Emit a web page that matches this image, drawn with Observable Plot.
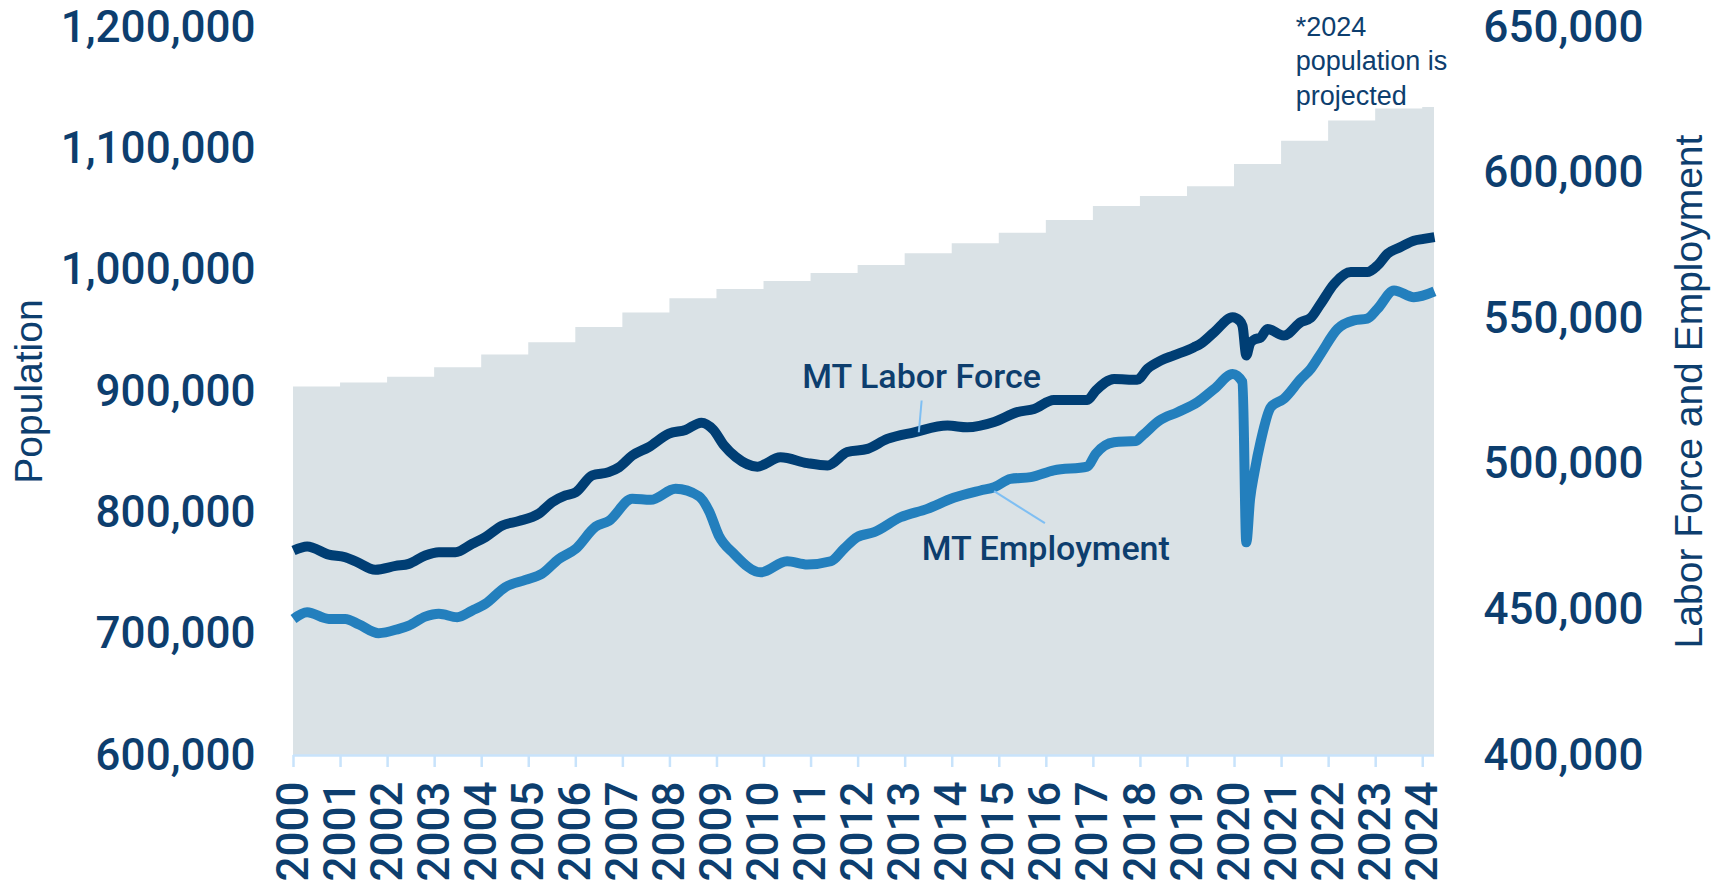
<!DOCTYPE html>
<html><head><meta charset="utf-8">
<script src="https://cdn.jsdelivr.net/npm/d3@7"></script>
<script src="https://cdn.jsdelivr.net/npm/@observablehq/plot@0.6"></script>
<style>body{margin:0;background:#fff} svg{display:block}</style>
</head><body><div id="chart"></div>
<script>
// ---- data ----
const years = d3.range(2000, 2025);
const population = [903773, 906961, 911667, 919630, 930009, 940102, 952692, 964706, 976415, 983982,
  990697, 997316, 1003783, 1013569, 1021869, 1030475, 1040859, 1052482, 1060665, 1068778,
  1087075, 1106227, 1122878, 1132812, 1134000];

// [decimal year, value]
const laborForce = [
  [2000.00,470400],[2000.29,471800],[2000.75,469000],[2001.10,468100],[2001.32,466700],[2001.74,463800],
  [2002.17,465100],[2002.45,465800],[2002.80,468700],[2003.09,469800],[2003.44,469800],[2003.80,472700],
  [2004.08,475000],[2004.44,479000],[2004.79,480500],[2005.21,483000],[2005.50,487000],[2005.78,489300],
  [2006.00,490400],[2006.35,496200],[2006.70,497300],[2006.92,499000],[2007.20,503000],[2007.55,505900],
  [2007.98,510500],[2008.33,511800],[2008.67,514300],[2008.92,511900],[2009.15,506500],[2009.40,502500],
  [2009.86,499200],[2010.35,502400],[2010.92,500400],[2011.35,499600],[2011.77,504200],[2012.20,505300],
  [2012.62,508700],[2013.19,511000],[2013.90,513300],[2014.32,512700],[2014.89,514500],[2015.38,517900],
  [2015.74,519000],[2016.16,522100],[2016.87,522100],[2017.05,525300],[2017.44,529300],[2017.93,529000],
  [2018.15,532800],[2018.43,535600],[2018.71,537400],[2019.14,540200],[2019.28,541400],[2019.57,545400],
  [2019.96,550500],[2020.10,549400],[2020.17,547500],[2020.25,537400],[2020.33,541500],[2020.42,542800],
  [2020.56,543600],[2020.70,546500],[2021.05,544200],[2021.41,548800],[2021.62,550300],[2021.83,555100],
  [2022.12,562000],[2022.47,566000],[2022.82,566000],[2023.04,568300],[2023.25,572300],[2023.53,574600],
  [2023.81,576800],[2024.02,577400],[2024.25,578000]
];
const employment = [
  [2000.00,446900],[2000.29,449200],[2000.75,446900],[2001.10,446900],[2001.39,445000],[2001.81,442000],
  [2002.24,443500],[2002.45,444600],[2002.80,447700],[2003.09,448700],[2003.48,447500],[2003.80,449800],
  [2004.08,452100],[2004.50,457800],[2004.93,460300],[2005.28,462400],[2005.64,467500],[2006.00,471000],
  [2006.42,478600],[2006.70,480500],[2007.20,488200],[2007.59,487800],[2008.12,491600],[2008.62,489000],
  [2008.83,484000],[2009.04,475500],[2009.36,469300],[2009.93,462900],[2010.49,466700],[2010.92,465600],
  [2011.42,466700],[2011.70,471000],[2011.98,475000],[2012.34,476700],[2012.90,481800],[2013.47,484700],
  [2014.03,488500],[2014.60,491000],[2014.89,492100],[2015.24,495000],[2015.67,495600],[2016.16,497900],
  [2016.87,499200],[2017.05,503600],[2017.44,507600],[2017.90,508000],[2018.05,510000],[2018.40,515000],
  [2018.79,517900],[2019.21,521300],[2019.57,525900],[2019.96,531000],[2020.17,528200],[2020.25,473200],
  [2020.33,488000],[2020.42,497000],[2020.56,508200],[2020.77,519600],[2021.05,522500],[2021.41,529300],
  [2021.62,532800],[2021.83,537900],[2022.19,546500],[2022.54,549400],[2022.82,550000],[2023.04,553400],
  [2023.39,559700],[2023.81,557400],[2024.25,559400]
];
const leftTicks = [600000, 700000, 800000, 900000, 1000000, 1100000, 1200000];
const rightTicks = [400000, 450000, 500000, 550000, 600000, 650000];
const yearTicks = years;
const labels = ["MT Labor Force", "MT Employment"];
const note = "*2024\npopulation is\nprojected";
const yTitleLeft = "Population";
const yTitleRight = "Labor Force and Employment";

// ---- dual-axis mapping ----
const L0 = leftTicks[0], L1 = leftTicks[leftTicks.length - 1];
const R0 = rightTicks[0], R1 = rightTicks[rightTicks.length - 1];
const toLeft = v => L0 + (v - R0) * (L1 - L0) / (R1 - R0);
const fromLeft = v => R0 + (v - L0) * (R1 - R0) / (L1 - L0);
const tEnd = laborForce[laborForce.length - 1][0];
const popData = population.map((p, i) => ({t: years[i], v: p}));
popData.push({t: tEnd, v: population[population.length - 1]});

const TXT = "#0d3e6e";
const fmt = d3.format(",");
const TICKFONT = "Roboto, 'Liberation Sans', Arial, sans-serif";

const chart = Plot.plot({
  width: 1725, height: 881,
  marginLeft: 293, marginRight: 291, marginTop: 27, marginBottom: 126,
  x: {domain: [2000, tEnd]},
  y: {domain: [L0, L1]},
  style: {fontFamily: "'Liberation Sans', Arial, sans-serif", color: TXT, background: "#fff"},
  marks: [
    Plot.areaY(popData, {x: "t", y1: L0, y2: "v", curve: "step-after", fill: "#dae2e6"}),
    Plot.ruleY([L0], {stroke: "#c8e3fb", strokeWidth: 2.5}),
    Plot.axisX({ticks: yearTicks, tickFormat: d => String(d), tickRotate: -90, tickSize: 12, tickPadding: 14,
      fontSize: 44, fontFamily: TICKFONT, fontWeight: 500, stroke: "#c8e3fb", strokeWidth: 2.5, fill: TXT, label: null}),
    Plot.axisY({anchor: "left", ticks: leftTicks, tickSize: 0, tickPadding: 38, fontSize: 44,
      fontFamily: TICKFONT, fontWeight: 500, tickFormat: fmt, fill: TXT, label: null}),
    Plot.axisY({anchor: "right", ticks: rightTicks.map(toLeft), tickSize: 0, tickPadding: 49, fontSize: 44,
      fontFamily: TICKFONT, fontWeight: 500, tickFormat: d => fmt(Math.round(fromLeft(d))), fill: TXT, label: null}),
    Plot.line(employment, {x: d => d[0], y: d => toLeft(d[1]), stroke: "#237fbd", strokeWidth: 10,
      curve: "monotone-x", strokeLinecap: "butt"}),
    Plot.line(laborForce, {x: d => d[0], y: d => toLeft(d[1]), stroke: "#003e74", strokeWidth: 10,
      curve: "monotone-x", strokeLinecap: "butt"}),
    Plot.link([0], {x1: 2013.35, y1: toLeft(521900), x2: 2013.29, y2: toLeft(511000), stroke: "#7fbff3", strokeWidth: 2}),
    Plot.link([0], {x1: 2014.89, y1: toLeft(490760), x2: 2015.97, y2: toLeft(479770), stroke: "#7fbff3", strokeWidth: 2}),
    Plot.text([labels[0]], {x: 2013.35, y: toLeft(529800), fontSize: 34, fontFamily: TICKFONT, fontWeight: 500, fill: TXT}),
    Plot.text([labels[1]], {x: 2015.99, y: toLeft(470840), fontSize: 34, fontFamily: TICKFONT, fontWeight: 500, fill: TXT}),
    Plot.text([note], {x: 2021.30, y: 1213500, textAnchor: "start", lineAnchor: "top", lineHeight: 1.28,
      fontSize: 27, fill: TXT}),
    Plot.text([yTitleLeft], {x: 1994.40, y: (L0 + L1) / 2, rotate: -90, fontSize: 39, fill: TXT}),
    Plot.text([yTitleRight], {x: 2029.67, y: (L0 + L1) / 2, rotate: -90, fontSize: 39, fill: TXT})
  ]
});
document.getElementById("chart").appendChild(chart);
</script>
</body></html>
